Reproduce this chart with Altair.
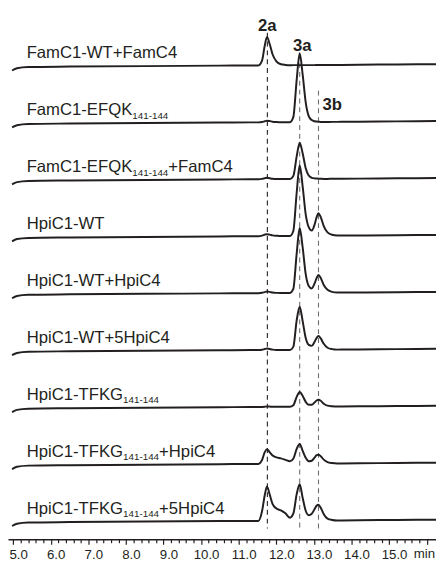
import altair as alt
import pandas as pd

# ---------------- data ----------------
trace_names = [
    ("FamC1-WT+FamC4", "", ""),
    ("FamC1-EFQK", "141-144", ""),
    ("FamC1-EFQK", "141-144", "+FamC4"),
    ("HpiC1-WT", "", ""),
    ("HpiC1-WT+HpiC4", "", ""),
    ("HpiC1-WT+5HpiC4", "", ""),
    ("HpiC1-TFKG", "141-144", ""),
    ("HpiC1-TFKG", "141-144", "+HpiC4"),
    ("HpiC1-TFKG", "141-144", "+5HpiC4"),
]

times = [4.97, 5.1, 5.4, 6.5, 8.5, 10.5, 11.3, 11.52, 11.62, 11.69, 11.75, 11.82, 11.9, 12.0,
         12.12, 12.24, 12.36, 12.45, 12.54, 12.62, 12.7, 12.78, 12.86, 12.94, 13.02, 13.07,
         13.12, 13.18, 13.26, 13.36, 13.48, 13.62, 14.2, 15.2, 16.3]

baseline_drift = [-3.5, -1.2, 0, 0.5, 1.0, 1.5, 1.7, 1.7, 1.8, 1.8, 1.8, 1.8, 1.8, 1.9,
                  1.9, 1.9, 1.9, 2.0, 2.0, 2.0, 2.0, 2.0, 2.0, 2.0, 2.0, 2.1,
                  2.1, 2.1, 2.1, 2.1, 2.2, 2.2, 2.4, 2.7, 3.0]

signal_1 = [0, 0, 0, 0, 0, 0, 0, 0, 5, 20, 29, 22, 11, 4, 1, 0.3, 0, 0, 0, 0, 0, 0, 0, 0, 0, 0, 0, 0, 0, 0, 0, 0, 0, 0, 0]
signal_2 = [0, 0, 0, 0, 0, 0, 0, 0, 0.3, 1, 1.5, 1.2, 0.6, 0.2, 0, 0, 0, 5, 43, 70, 48, 20, 6, 2, 0.8, 0.4, 0.2, 0, 0, 0, 0, 0, 0, 0, 0]
signal_3 = [0, 0, 0, 0, 0, 0, 0, 0, 0.3, 1, 1.5, 1, 0.4, 0, 0, 0, 0, 3, 23, 37, 26, 11, 3.5, 1.2, 0.6, 0.4, 0.3, 0.2, 0, 0, 0, 0, 0, 0, 0]
signal_4 = [0, 0, 0, 0, 0, 0, 0, 0, 0.5, 1.5, 2, 1.5, 0.8, 0.3, 0, 0, 0, 5, 44, 72, 50, 22, 9, 5.5, 12, 19, 23, 19, 10, 3.5, 1, 0.3, 0, 0, 0]
signal_5 = [0, 0, 0, 0, 0, 0, 0, 0, 0.3, 1, 1.5, 1.2, 0.5, 0.1, 0, 0, 0, 4, 40, 66, 46, 19, 7, 4.5, 10, 15, 18, 15, 8, 3, 0.8, 0.2, 0, 0, 0]
signal_6 = [0, 0, 0, 0, 0, 0, 0, 0, 0.3, 1, 1.5, 1, 0.4, 0, 0, 0, 0, 3, 30, 44, 29, 12, 5, 4, 8.5, 12, 14, 11.5, 6, 2, 0.5, 0, 0, 0, 0]
signal_7 = [0, 0, 0, 0, 0, 0, 0, 0, 0, 0.2, 0.5, 0.4, 0.1, 0, 0, 0, 0, 1.5, 10, 15, 11, 5, 2, 2, 4.5, 6.3, 7, 6, 3, 1, 0.3, 0, 0, 0, 0]
signal_8 = [0, 0, 0, 0, 0, 0, 0, 0, 4, 12, 15, 12, 8.5, 6.5, 5.5, 4, 2.5, 5, 15, 20, 13, 6, 2.5, 3, 6.5, 8.5, 9, 7.5, 4, 1.5, 0.4, 0, 0, 0, 0]
signal_9 = [0, 0, 0, 0, 0, 0, 0, 0, 10, 26, 35, 27, 17, 12.5, 10.5, 7.5, 3, 7, 27, 37, 23, 10, 5.5, 7, 12, 15, 16, 13, 6.5, 2, 0.5, 0, 0, 0, 0]
signals = [signal_1, signal_2, signal_3, signal_4, signal_5, signal_6, signal_7, signal_8, signal_9]

peak_times = [11.76, 12.62, 13.12]
peak_labels = ["2a", "3a", "3b"]

tick_labels = ["5.0", "6.0", "7.0", "8.0", "9.0", "10.0", "11.0", "12.0", "13.0", "14.0", "15.0"]
axis_unit = "min"

# ---------------- layout / style ----------------
INK = "#231f20"
GREY = "#6d6e71"
FONT = "Liberation Sans"
NARROW = "Liberation Sans Narrow, Liberation Sans"
W, H = 436, 536
K = 38.3                        # px per minute
T0 = 5.0 - (13.3 - 8) / K       # left edge of plot area (page x 8)
T1 = T0 + W / K
SPACING = 58.0
FIRST_BASE = 55.0               # px from top of plot to first baseline
MAIN_FS, SUB_FS = 17, 10
TICK_FS = 13.5

ARIAL = {'F': 611, 'a': 556, 'm': 833, 'C': 722, '1': 556, '-': 333, 'W': 944, 'T': 611,
         '+': 584, '4': 556, 'E': 667, 'Q': 778, 'K': 667, 'H': 722, 'p': 556, 'i': 222,
         'G': 778, '5': 556}


def text_w(s, fs):
    return sum(ARIAL.get(c, 556) for c in s) / 1000.0 * fs


def top_to_v(py):
    return H - py


def base_v(i):
    return top_to_v(FIRST_BASE + SPACING * i)


# trace table
rows = []
for i, sig in enumerate(signals):
    for t, d, s in zip(times, baseline_drift, sig):
        rows.append({"trace": i, "t": t, "v": base_v(i) + d + s})
line_df = pd.DataFrame(rows)

# label tables
main_rows, sub_rows = [], []
for i, (a, b, c) in enumerate(trace_names):
    px = 27 - 8
    yv = base_v(i) + 9
    main_rows.append({"t": T0 + px / K, "v": yv, "txt": a})
    px += text_w(a, MAIN_FS)
    if b:
        sub_rows.append({"t": T0 + px / K, "v": yv - 3.5, "txt": b})
        px += text_w(b, SUB_FS)
    if c:
        main_rows.append({"t": T0 + px / K, "v": yv, "txt": c})
main_df = pd.DataFrame(main_rows)
sub_df = pd.DataFrame(sub_rows)

rule_df = pd.DataFrame({
    "t": peak_times,
    "v": [top_to_v(20), top_to_v(42), top_to_v(79)],
    "v2": [top_to_v(525)] * 3,
    "col": [INK, GREY, GREY],
})
plab_center = pd.DataFrame({
    "t": [peak_times[0], peak_times[1] + 2.5 / K],
    "v": [top_to_v(18), top_to_v(39)],
    "txt": peak_labels[:2],
})
plab_left = pd.DataFrame({
    "t": [peak_times[2] + 4 / K],
    "v": [top_to_v(99)],
    "txt": peak_labels[2:],
})

xs = alt.Scale(domain=[T0, T1], nice=False, zero=False)
ys = alt.Scale(domain=[0, H], nice=False, zero=False)

tick_values = [round(5.0 + 0.2 * j, 1) for j in range(56)]
xaxis = alt.Axis(
    values=tick_values,
    labelExpr="datum.value % 1 == 0 && datum.value <= 15 ? format(datum.value, '.1f') : ''",
    title=None, grid=False,
    domainColor=INK, domainWidth=1.7,
    tickColor=INK, tickWidth=1.2,
    tickSize={"condition": {"test": "datum.value % 1 == 0", "value": 5}, "value": 3.5},
    labelFont=NARROW, labelFontSize=TICK_FS, labelColor=INK,
    labelPadding=4, labelOffset=5, labelOverlap=False,
)


def X():
    return alt.X("t:Q", scale=xs, axis=xaxis)


def Y():
    return alt.Y("v:Q", scale=ys, axis=None)


rules = alt.Chart(rule_df).mark_rule(strokeDash=[5, 4], strokeWidth=1.1).encode(
    x=X(), y=Y(), y2="v2:Q", color=alt.Color("col:N", scale=None, legend=None)
)

lines = alt.Chart(line_df).mark_line(
    interpolate="monotone", stroke=INK, strokeWidth=2, clip=True
).encode(x=X(), y=Y(), detail="trace:N")

plabs = alt.Chart(plab_center).mark_text(
    font=FONT, fontSize=17, fontWeight="bold", color=INK, align="center", baseline="alphabetic"
).encode(x=X(), y=Y(), text="txt:N")
plabs2 = alt.Chart(plab_left).mark_text(
    font=FONT, fontSize=17, fontWeight="bold", color=INK, align="left", baseline="alphabetic"
).encode(x=X(), y=Y(), text="txt:N")

mains = alt.Chart(main_df).mark_text(
    font=FONT, fontSize=MAIN_FS, color=INK, align="left", baseline="alphabetic"
).encode(x=X(), y=Y(), text="txt:N")
subs = alt.Chart(sub_df).mark_text(
    font=FONT, fontSize=SUB_FS, color=INK, align="left", baseline="alphabetic"
).encode(x=X(), y=Y(), text="txt:N")

unit_df = pd.DataFrame({"t": [T1 - 1 / K], "v": [top_to_v(555.5)], "txt": [axis_unit]})
unit = alt.Chart(unit_df).mark_text(
    font=NARROW, fontSize=TICK_FS, color=INK, align="right", baseline="alphabetic"
).encode(x=X(), y=Y(), text="txt:N")

chart = alt.layer(rules, lines, plabs, plabs2, mains, subs, unit).properties(
    width=W, height=H,
    autosize=alt.AutoSizeParams(type="none"),
    padding={"left": 0, "top": 0, "right": 0, "bottom": 20},
    background="white",
).configure_view(stroke=None)

chart.save("out.html", embed_options={"renderer": "svg", "actions": False})
